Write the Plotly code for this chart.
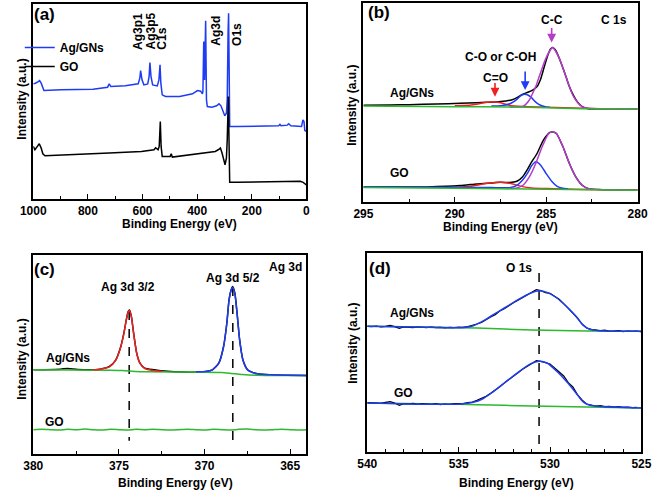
import plotly.graph_objects as go

W, H = 663, 490
FONT = "Liberation Sans, Arial, sans-serif"
BLUE = "#1f3cf5"
RED = "#f02020"
GREEN = "#2db82d"
MAG = "#b43cc8"
BLACK = "#000000"

# ---------------- (a) survey spectra ----------------
a_agg_e = [1000, 992, 982, 977, 971, 966, 961, 898, 781, 728, 722, 716, 663, 616, 610, 607, 602, 595,
           581, 576, 573, 569, 563, 546, 540, 536, 533, 528, 516, 464, 417, 399, 387, 381, 379, 376,
           373, 369, 366, 363, 346, 329, 320, 313, 305, 299, 293, 290, 287, 285, 283, 281, 252, 135,
           102, 97, 93, 70, 65, 57, 18, 13, 9, 6, 0]
a_agg_i = [346, 348, 353, 356, 348, 333, 326, 328, 330, 336, 346, 338, 340, 346, 363, 386, 358, 343,
           346, 368, 410, 368, 343, 340, 358, 403, 348, 313, 308, 308, 316, 326, 324, 316, 323, 473,
           358, 536, 298, 278, 276, 280, 286, 280, 263, 250, 258, 298, 498, 558, 398, 218, 218, 220,
           220, 224, 220, 222, 226, 220, 218, 238, 233, 206, 203]
a_go_e = [1000, 994, 985, 978, 971, 965, 957, 839, 722, 604, 558, 552, 543, 539, 535, 532, 528, 499,
          495, 491, 428, 370, 334, 323, 315, 309, 303, 298, 293, 290, 286, 284, 281, 252, 76, 23, 12, 0]
a_go_i = [158, 148, 158, 166, 153, 136, 130, 133, 138, 143, 148, 154, 148, 158, 233, 158, 128, 128,
          136, 126, 132, 138, 143, 148, 153, 138, 113, 103, 123, 178, 308, 148, 50, 50, 51, 53, 50, 42]
a_labels = ["Ag3p1", "Ag3p5", "C1s", "Ag3d", "O1s"]
a_ticks = [1000, 800, 600, 400, 200, 0]

# ---------------- (b) C 1s ----------------
b_agg_e = [295, 293.5, 292.5, 291, 289.7, 288.8, 288.3, 287.6, 287.2, 286.9, 286.6, 286.3, 286.0, 285.7,
           285.5, 285.3, 285.1, 284.9, 284.75, 284.65, 284.5, 284.3, 284.08, 283.9, 283.73, 283.5, 283.3,
           283.03, 282.7, 282, 281, 280]
b_agg_i = [289, 290, 291, 293, 295, 297, 298, 300, 302, 305, 312, 322, 328, 336, 345, 368, 405, 440, 458,
           462, 455, 432, 400, 372, 345, 318, 300, 285, 279, 278, 278, 278]
b_agg_cc_e = [287, 286.6, 286.27, 285.92, 285.7, 285.57, 285.4, 285.22, 285.05, 284.86, 284.65, 284.44,
              284.25, 284.08, 283.9, 283.73, 283.55, 283.38, 283.2, 283.03, 282.7, 282, 280]
b_agg_cc_i = [284, 284, 286, 305, 330, 345, 372, 400, 425, 447, 462, 447, 425, 400, 372, 345, 320, 305,
              292, 285, 280, 278, 278]
b_agg_co_e = [288.0, 287.5, 287.2, 286.9, 286.6, 286.4, 286.2, 286.0, 285.8, 285.6, 285.4, 285.2, 285.0, 284.8]
b_agg_co_i = [287, 288, 290, 296, 307, 317, 322, 320, 312, 300, 292, 287, 284, 283]
b_agg_cdo_e = [290.0, 289.2, 288.8, 288.4, 288.0, 287.8, 287.5, 287.2, 286.9, 286.5, 286.0, 285.0, 282.0, 280.0]
b_agg_cdo_i = [288, 289, 292, 297, 299, 299, 297, 292, 288, 286, 285, 283, 279, 278]
b_agg_bg_e = [295, 290, 287, 285, 283, 280]
b_agg_bg_i = [287, 285, 284, 282, 279, 278]

b_go_e = [295, 291.5, 289.7, 288.8, 288.0, 287.5, 287.0, 286.6, 286.3, 286.0, 285.85, 285.5, 285.15,
          284.8, 284.65, 284.44, 284.08, 283.73, 283.38, 283.03, 282.68, 280]
b_go_i = [45, 45, 49, 54, 57, 59, 58, 62, 75, 100, 115, 145, 185, 208, 209, 205, 165, 115, 75, 50, 40, 37]
b_go_cc_e = [287, 286.6, 286.27, 285.92, 285.57, 285.22, 284.86, 284.65, 284.44, 284.08, 283.73, 283.38,
             283.03, 282.68, 282, 280]
b_go_cc_i = [40, 42, 50, 75, 115, 165, 205, 209, 205, 165, 115, 75, 50, 40, 37, 36]
b_go_co_e = [295, 290, 288, 287.0, 286.6, 286.3, 286.0, 285.8, 285.56, 285.3, 285.0, 284.7, 284.4, 284.1, 283.8]
b_go_co_i = [45, 44, 43, 43, 50, 65, 88, 108, 120, 110, 85, 62, 47, 41, 39]
b_go_cdo_e = [290, 289.3, 288.8, 288.3, 287.8, 287.5, 287.1, 286.7, 286.3, 285.8, 285.0, 282.0, 280.0]
b_go_cdo_i = [44, 46, 50, 55, 58, 59, 57, 52, 46, 42, 40, 37, 36]
b_go_bg_e = [295, 290, 285, 280]
b_go_bg_i = [43, 41, 38, 35]
b_ticks = [295, 290, 285, 280]
# arrow marks: (energy, head intensity, tail intensity)
b_arrows = [(284.7, 477, 525, MAG), (286.15, 335, 395, BLUE), (287.8, 315, 360, RED)]

# ---------------- (c) Ag 3d ----------------
c_agg_e = [380, 378.4, 378.0, 377.4, 376.1, 375.55, 375.18, 374.89, 374.71, 374.57, 374.46, 374.38,
           374.27, 374.14, 373.96, 373.77, 373.49, 372.92, 372.55, 370.86, 369.92, 369.54, 369.17, 368.89,
           368.70, 368.57, 368.45, 368.36, 368.23, 368.10, 367.95, 367.76, 367.48, 366.92, 366.17, 364.04]
c_agg_i = [253, 255, 257, 254, 255, 263, 283, 323, 363, 403, 428, 433, 413, 363, 303, 273, 258, 253, 250,
           246, 248, 253, 273, 323, 393, 463, 493, 503, 483, 423, 343, 283, 253, 241, 238, 236]
c_32_e = [376.5, 376.1, 375.55, 375.18, 374.89, 374.71, 374.57, 374.46, 374.38, 374.27, 374.14, 373.96,
          373.77, 373.49, 373.0, 372.5]
c_32_i = [253, 255, 262, 282, 322, 362, 402, 426, 431, 412, 362, 302, 272, 257, 251, 249]
c_52_e = [370.5, 369.92, 369.54, 369.17, 368.89, 368.70, 368.57, 368.45, 368.36, 368.23, 368.10, 367.95,
          367.76, 367.48, 366.92, 366.17, 364.04]
c_52_i = [247, 248, 253, 272, 322, 392, 462, 492, 501, 482, 422, 342, 282, 252, 241, 238, 236]
c_bg_e = [380, 375.5, 374.8, 374.0, 373.5, 370, 369.0, 368.4, 367.8, 367.0, 364.04]
c_bg_i = [253, 252, 251, 248, 247, 246, 245, 242, 239, 237, 236]
c_go_e = [380, 379.5, 379, 378.5, 378, 377.5, 377, 376.5, 376, 375.5, 375, 374.5, 374, 373.5, 373, 372.5,
          372, 371.5, 371, 370.5, 370, 369.5, 369, 368.5, 368, 367.5, 367, 366.5, 366, 365.5, 365, 364.5,
          364.04]
c_go_i = [73, 74, 73, 72, 74, 73, 75, 73, 72, 74, 73, 72, 74, 73, 74, 73, 72, 73, 74, 73, 72, 74, 73, 72,
          74, 75, 73, 72, 73, 74, 73, 72, 73]
c_peaks_e = [374.4, 368.35]
c_peaks_top = [430, 502]
c_ticks = [380, 375, 370, 365]

# ---------------- (d) O 1s ----------------
d_e = [540 - 0.25 * k for k in range(61)]
d_agg_i = [377, 376, 378, 375, 377, 380, 376, 371, 375, 374, 373, 375, 374, 373, 375, 373, 374, 372, 374,
           373, 375, 374, 376, 379, 384, 389, 398, 405, 412, 423, 430, 440, 448, 455, 463, 470, 477, 487,
           484, 478, 476, 466, 458, 445, 430, 418, 402, 384, 372, 368, 365, 364, 366, 362, 363, 364, 361,
           363, 362, 363, 360]
d_go_i = [148, 147, 148, 146, 149, 151, 147, 140, 145, 144, 146, 143, 145, 144, 143, 145, 142, 144, 143,
          145, 144, 145, 148, 150, 155, 160, 167, 176, 185, 196, 207, 218, 228, 238, 248, 256, 266, 274,
          272, 267, 264, 252, 240, 228, 208, 195, 172, 156, 144, 140, 138, 139, 136, 137, 135, 136, 134,
          135, 133, 134, 132]
d_fit_e = [540, 536.7, 534.9, 534.2, 533.7, 533.2, 532.5, 531.75, 531.05, 530.6, 530.16, 529.63, 529.11,
           528.58, 528.22, 527.87, 527.34, 525]
d_agg_fit = [377, 374, 373, 379, 392, 409, 432, 457, 477, 484, 479, 462, 437, 407, 382, 369, 364, 362]
d_go_fit = [147, 143, 144, 149, 159, 177, 207, 239, 265, 272, 267, 242, 212, 177, 152, 141, 137, 132]
d_bg_e = [540, 536, 534, 531, 528, 525]
d_agg_bg = [377, 374, 372, 366, 363, 362]
d_go_bg = [147, 144, 142, 138, 135, 132]
d_peak_e = 530.6
d_peak_top = 537
d_ticks = [540, 535, 530, 525]


def px(x):
    return x / W


def py(y):
    return 1 - y / H


fig = go.Figure()


def line(x, y, color, ax, width=1.5, shape="spline", name=None, legend=False, dash=None):
    fig.add_trace(go.Scatter(x=x, y=y, mode="lines", name=name, showlegend=legend,
                             line=dict(color=color, width=width, shape=shape, dash=dash,
                                       smoothing=0.6 if shape == "spline" else None),
                             xaxis="x" + ax, yaxis="y" + ax, hoverinfo="skip"))


# (a)
line(a_agg_e, a_agg_i, BLUE, "", shape="linear", name="Ag/GNs", legend=True)
line(a_go_e, a_go_i, BLACK, "", shape="linear", name="GO", legend=True)

# (b)
line(b_agg_e, b_agg_i, BLACK, "2")
line(b_agg_cdo_e, b_agg_cdo_i, RED, "2")
line(b_agg_co_e, b_agg_co_i, BLUE, "2")
line(b_agg_cc_e, b_agg_cc_i, MAG, "2")
line(b_agg_bg_e, b_agg_bg_i, GREEN, "2")
line(b_go_e, b_go_i, BLACK, "2")
line(b_go_cdo_e, b_go_cdo_i, RED, "2")
line(b_go_co_e, b_go_co_i, BLUE, "2")
line(b_go_cc_e, b_go_cc_i, MAG, "2")
line(b_go_bg_e, b_go_bg_i, GREEN, "2")

# (c)
for e, top in zip(c_peaks_e, c_peaks_top):
    line([e, e], [top, 40], BLACK, "3", shape="linear", dash="dash")
line(c_agg_e, c_agg_i, BLACK, "3")
line(c_bg_e, c_bg_i, GREEN, "3")
line(c_32_e, c_32_i, RED, "3")
line(c_52_e, c_52_i, BLUE, "3")
line(c_go_e, c_go_i, GREEN, "3")

# (d)
line([d_peak_e, d_peak_e], [d_peak_top, 0], BLACK, "4", shape="linear", dash="dash")
line(d_bg_e, d_agg_bg, GREEN, "4")
line(d_bg_e, d_go_bg, GREEN, "4")
line(d_e, d_agg_i, BLACK, "4", width=1.2, shape="linear")
line(d_e[:-1], d_go_i[:-1], BLACK, "4", width=1.2, shape="linear")
line(d_fit_e, d_agg_fit, BLUE, "4")
line(d_fit_e, d_go_fit, BLUE, "4")

tickfont = dict(family=FONT, size=12, color="black", weight="bold")


def xax(dom, anchor, rng, ticks, minor):
    return dict(domain=dom, anchor=anchor, range=rng, tickmode="array", tickvals=ticks,
                ticks="inside", ticklen=5, tickwidth=1.3, tickcolor="black",
                minor=dict(ticks="inside", tickmode="linear", tick0=0, dtick=minor, ticklen=3,
                           tickwidth=1.2, tickcolor="black"),
                showline=True, mirror=True, linecolor="black", linewidth=1.5,
                showgrid=False, zeroline=False, tickfont=tickfont)


def yax(dom, anchor, rng):
    return dict(domain=dom, anchor=anchor, range=rng, showticklabels=False, ticks="",
                showline=True, mirror=True, linecolor="black", linewidth=1.5,
                showgrid=False, zeroline=False)


dom_ax = [px(21), px(304)]
dom_bx = [px(363), px(647)]
dom_dx = [px(367), px(651)]

fig.update_layout(
    width=W, height=H, margin=dict(l=0, r=0, t=0, b=0),
    paper_bgcolor="white", plot_bgcolor="white",
    xaxis=xax(dom_ax, "y", [1000, 0], a_ticks, 100),
    yaxis=yax([py(199), py(4)], "x", [0, 586]),
    xaxis2=xax(dom_bx, "y2", [295, 280], b_ticks, 2.5),
    yaxis2=yax([py(202), py(3)], "x2", [0, 595]),
    xaxis3=xax(dom_ax, "y3", [380, 364.05], c_ticks, 2.5),
    yaxis3=yax([py(454), py(255)], "x3", [0, 598]),
    xaxis4=xax(dom_dx, "y4", [540, 525], d_ticks, 1),
    yaxis4=yax([py(452), py(253)], "x4", [0, 597]),
    legend=dict(x=px(7), y=py(33), xanchor="left", yanchor="top", bgcolor="rgba(0,0,0,0)",
                font=dict(family=FONT, size=12, color="black", weight="bold"),
                tracegroupgap=0, itemwidth=30),
    showlegend=True,
)

ann = []


def text(t, x, y, size=12, angle=0, xa="center", ya="middle"):
    ann.append(dict(text=t, x=px(x), y=py(y), xref="paper", yref="paper", showarrow=False,
                    textangle=angle, xanchor=xa, yanchor=ya,
                    font=dict(family=FONT, size=size, color="black", weight="bold")))


# panel letters
text("(a)", 33, 14, 17)
text("(b)", 379, 13, 17)
text("(c)", 33, 269, 17)
text("(d)", 380, 268, 17)
# axis titles
for cx, cy in [(173, 223.5), (505, 226.5), (168, 483), (522, 483)]:
    text("Binding Energy (eV)", cx, cy)
for cx, cy in [(9, 99), (351, 105), (9, 359), (352, 343)]:
    text("Intensity (a.u.)", cx, cy, angle=-90)
# (a) rotated peak labels
for lab, cx, bot in zip(a_labels, [130, 143, 154, 210, 232.5], [52, 52, 52, 48, 48]):
    text(lab, cx, bot, angle=-90, ya="bottom")
# (b)
text("C-C", 558, 20)
text("C 1s", 623, 20)
text("C-O or C-OH", 505, 57)
text("C=O", 500, 78)
text("Ag/GNs", 413, 93)
text("GO", 400, 173)
# (c)
text("Ag 3d 3/2", 119.5, 287)
text("Ag 3d 5/2", 228, 278)
text("Ag 3d", 282, 267)
text("Ag/GNs", 57, 358)
text("GO", 43, 422)
# (d)
text("O 1s", 524, 268)
text("Ag/GNs", 413, 313)
text("GO", 405, 393)

for e, head, tail, col in b_arrows:
    ann.append(dict(x=e, y=head, ax=e, ay=tail, xref="x2", yref="y2", axref="x2", ayref="y2",
                    showarrow=True, arrowhead=2, arrowsize=1.1, arrowwidth=1.6, arrowcolor=col, text=""))

fig.update_layout(annotations=ann)
fig.write_html("out.html", config={"displayModeBar": False},
               post_script="document.body.style.margin='0';document.body.style.overflow='hidden';"
                           "document.documentElement.style.overflow='hidden';")
